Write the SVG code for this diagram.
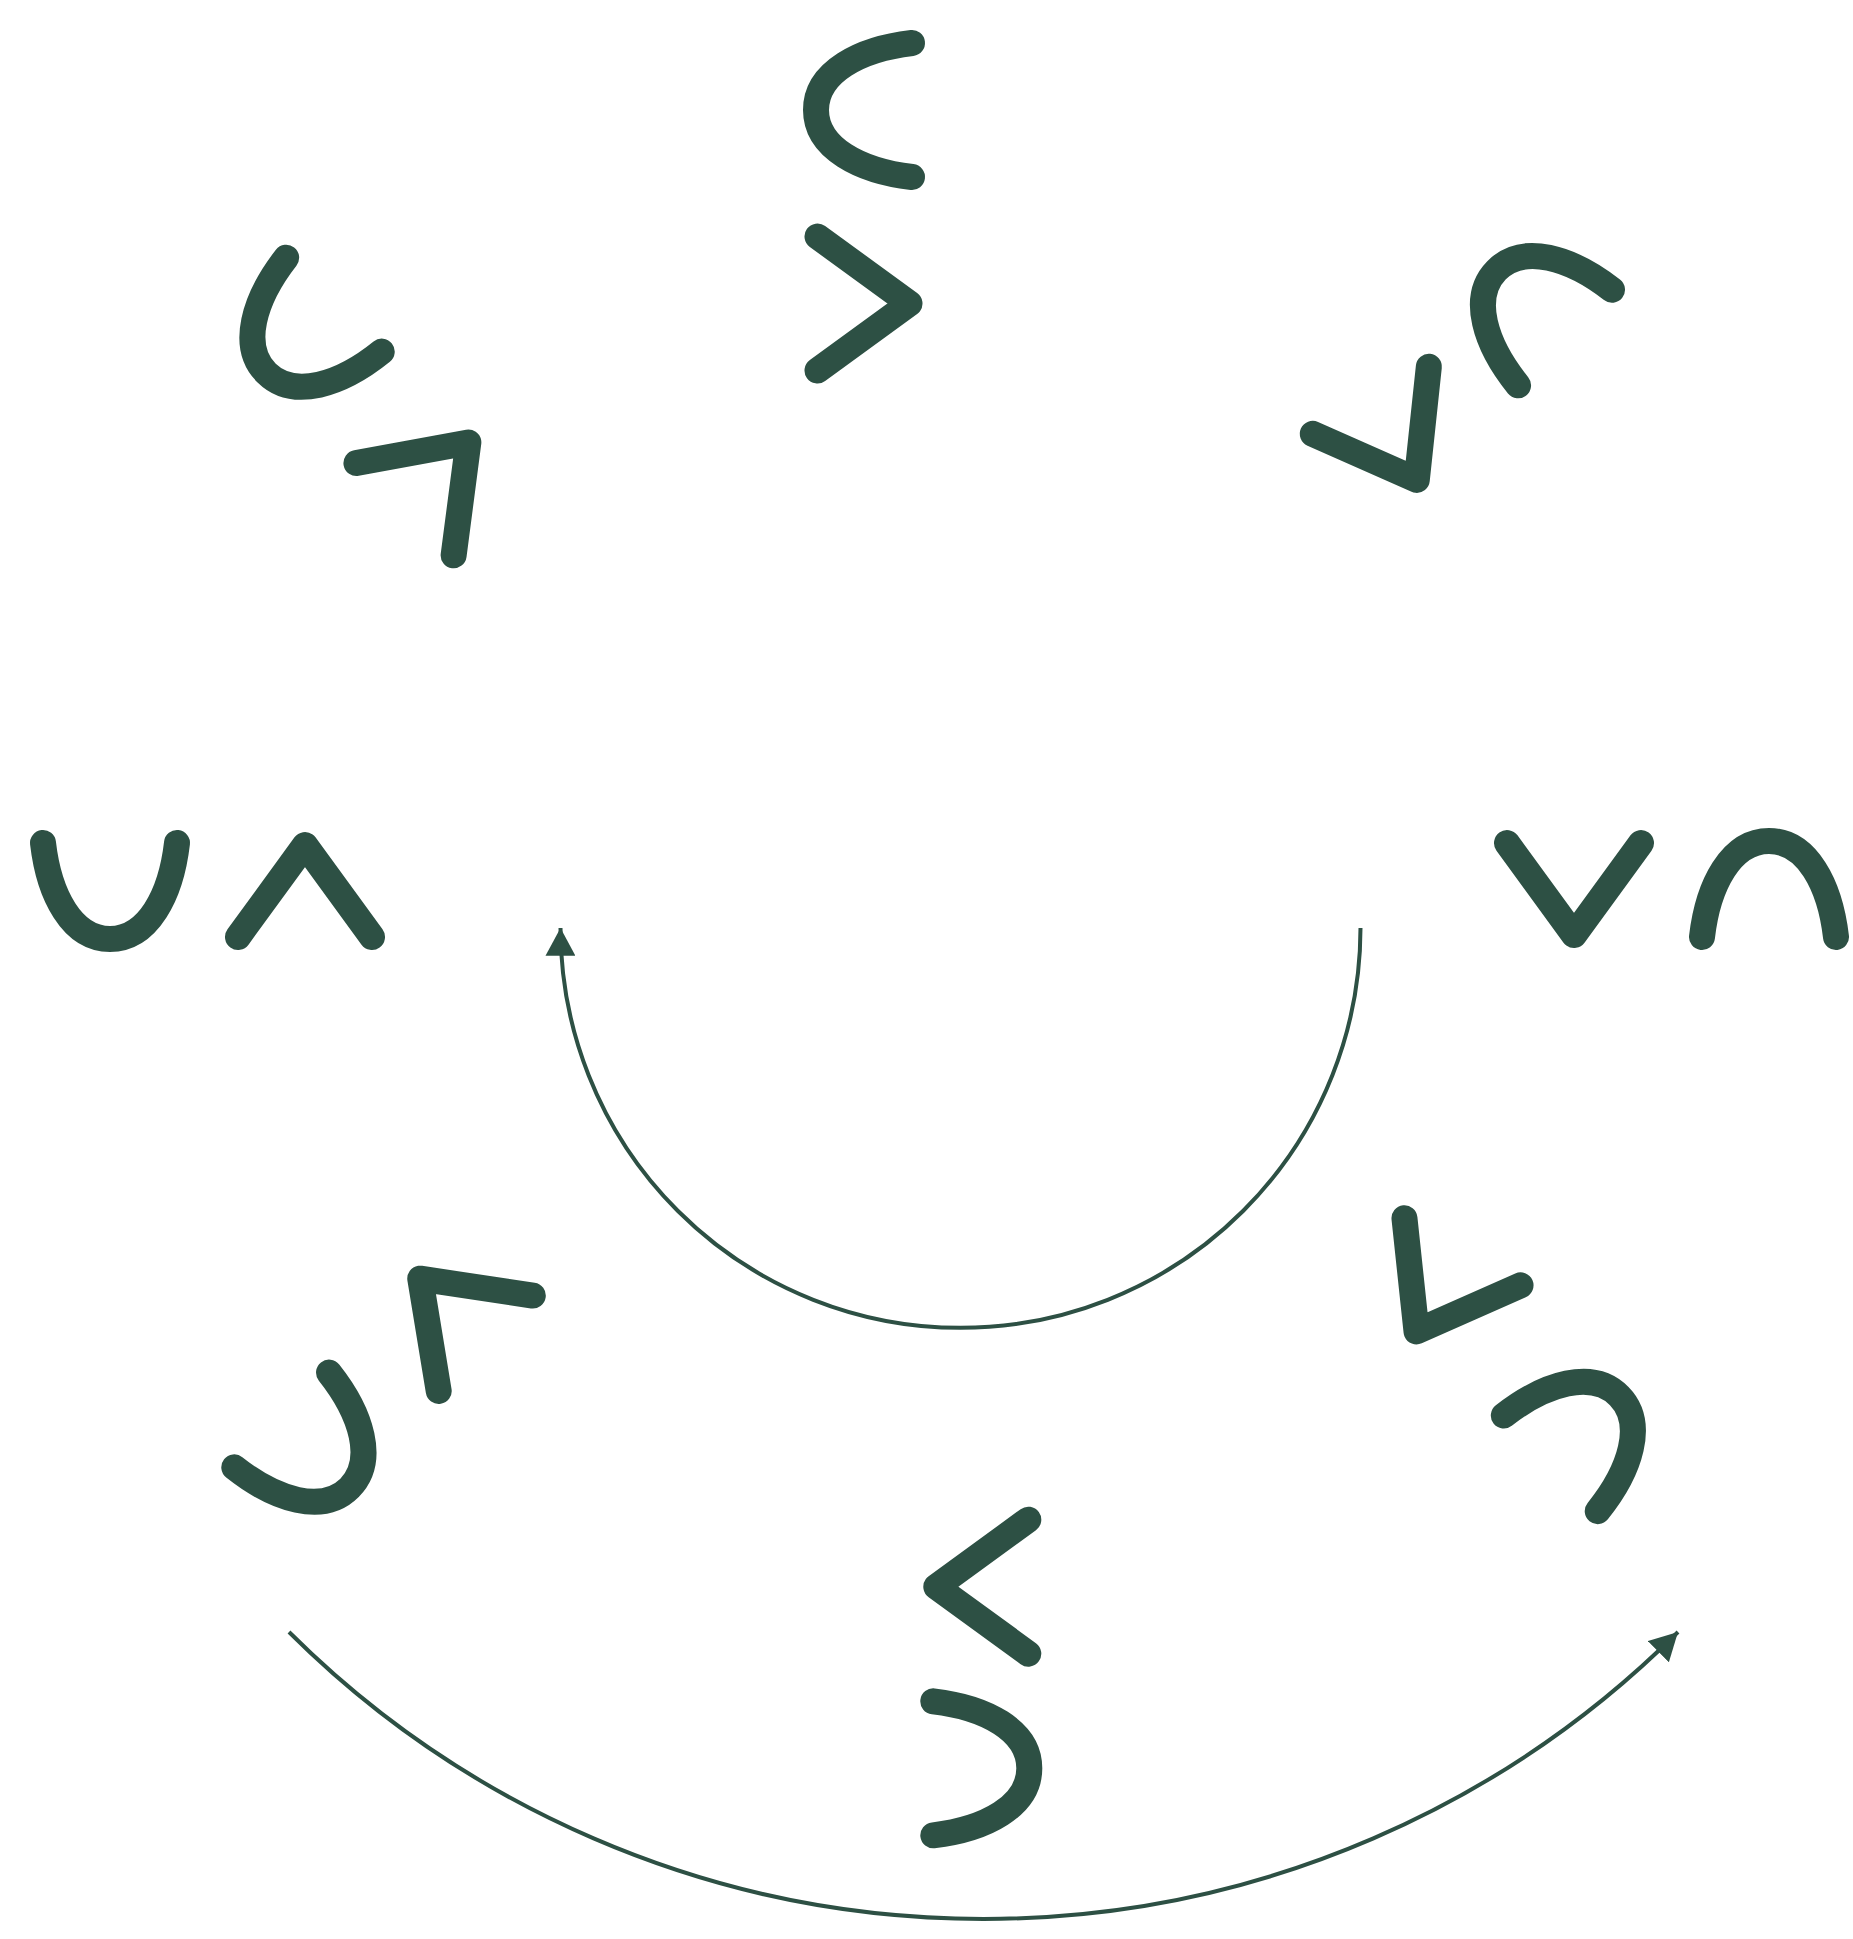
<svg xmlns="http://www.w3.org/2000/svg" xmlns:xlink="http://www.w3.org/1999/xlink" width="1853" height="1939" viewBox="0 0 1853 1939">
  <style>
    .g { fill: none; stroke: #2d5044; stroke-width: 26; stroke-linecap: round; stroke-linejoin: round; }
    .c { fill: none; stroke: #2d5044; stroke-width: 4; }
  </style>
  <defs>
    <path id="cup" d="M-67,-48 C-61,4 -38,48 0,48 C38,48 61,4 67,-48"/>
    <path id="wedge" d="M-67,46 L0,-46 L67,46"/>
    <marker id="arrow" markerUnits="userSpaceOnUse" markerWidth="28" markerHeight="30" viewBox="0 0 26 28" refX="26" refY="14" orient="auto">
      <path d="M0,0 L26,14 L0,28 z" fill="#2d5044"/>
    </marker>
  </defs>
  <rect width="1853" height="1939" fill="#ffffff"/>

  <g id="connectors">
    <path class="c" d="M1360.5,928 A400,400 0 0 1 560.5,928" marker-end="url(#arrow)"/>
    <path class="c" d="M289,1632 A984,984 0 0 0 1678,1632" marker-end="url(#arrow)"/>
  </g>

  <g id="pair-w" class="g">
    <use href="#cup" transform="translate(110,891)"/>
    <use href="#wedge" transform="translate(305,891)"/>
  </g>
  <g id="pair-nw" class="g">
    <use href="#cup" transform="translate(300.3,338.9) rotate(44.5)"/>
    <use href="#wedge" transform="translate(436.7,475.8) rotate(43.5)"/>
  </g>
  <g id="pair-n" class="g">
    <use href="#cup" transform="translate(864,110) rotate(90)"/>
    <use href="#wedge" transform="translate(863.5,303.5) rotate(90)"/>
  </g>
  <g id="pair-ne" class="g">
    <use href="#cup" transform="translate(1530.8,303.9) rotate(134.5)"/>
    <use href="#wedge" transform="translate(1393.8,440.1) rotate(150)"/>
  </g>
  <g id="pair-e" class="g">
    <use href="#wedge" transform="translate(1574,889) rotate(180)"/>
    <use href="#cup" transform="translate(1769,889) rotate(180)"/>
  </g>
  <g id="pair-se" class="g">
    <use href="#wedge" transform="translate(1439.5,1291.6) rotate(210)"/>
    <use href="#cup" transform="translate(1585,1429.7) rotate(225.5)"/>
  </g>
  <g id="pair-s" class="g">
    <use href="#wedge" transform="translate(982.3,1586.7) rotate(270)"/>
    <use href="#cup" transform="translate(981.3,1768.3) rotate(270)"/>
  </g>
  <g id="pair-sw" class="g">
    <use href="#wedge" transform="translate(453,1311) rotate(314.6)"/>
    <use href="#cup" transform="translate(315.6,1453.9) rotate(315)"/>
  </g>
</svg>
